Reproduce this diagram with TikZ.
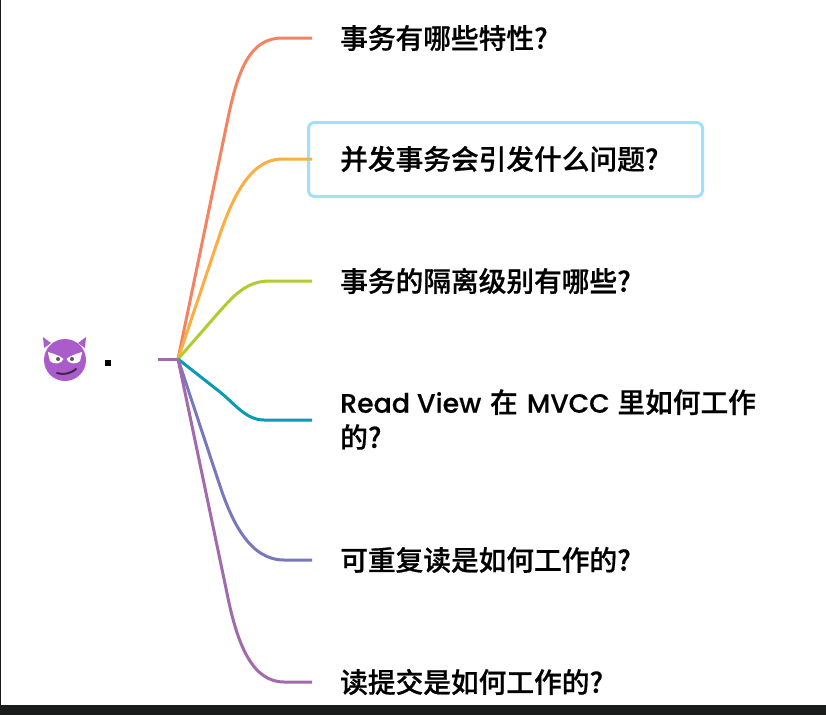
\documentclass[tikz,border=0pt]{standalone}
\usepackage{fontspec}
\setmainfont{Poppins Medium}
\newfontfamily\cjk[FakeBold=0.6]{Noto Sans CJK SC Medium}
\newfontfamily\lat[FakeBold=0.3]{Poppins Medium}
\tikzset{
  topic/.style={anchor=west,inner xsep=28pt,inner ysep=0pt,align=left,text=black,font=\fontsize{27.7}{35}\selectfont\cjk},
  branch/.style={line width=3pt,line join=round},
}
\definecolor{cA}{HTML}{F5835F}
\definecolor{cB}{HTML}{FDAE42}
\definecolor{cC}{HTML}{B2CC30}
\definecolor{cD}{HTML}{0A9BB3}
\definecolor{cE}{HTML}{7878BE}
\definecolor{cF}{HTML}{A269AC}
\definecolor{boxc}{HTML}{A0E0F9}
\definecolor{barc}{HTML}{1A1B1D}
\definecolor{devil}{HTML}{AB5CCB}
\begin{document}
\begin{tikzpicture}[x=1pt,y=-1pt]
\useasboundingbox (0,0) rectangle (826,715);
\fill[white] (0,0) rectangle (826,715);
\fill[barc] (0,705) rectangle (826,715);
\fill[barc] (0,0) rectangle (1.2,705);
% selected box
\node (sel) [draw=boxc,line width=3pt,rounded corners=6pt,fill=white,minimum width=394pt,minimum height=74pt,anchor=center,inner sep=0pt] at (505.5,159.5) {};
% topics
\node[topic] (t1) at (312,38) {事务有哪些特性?};
\node[topic] (t2) at (312,159) {并发事务会引发什么问题?};
\node[topic] (t3) at (312,281) {事务的隔离级别有哪些?};
\node[topic] (t4) at (312,420) {{\lat\fontsize{26.8}{35}\selectfont Read View}\hspace*{2.5pt} 在\hspace*{3pt} {\lat\fontsize{26.5}{35}\selectfont MVCC}\hspace*{1.5pt} 里如何工作\\的?\rule[-3pt]{0pt}{3pt}};
\node[topic] (t5) at (312,560) {可重复读是如何工作的?};
\node[topic] (t6) at (312,682) {读提交是如何工作的?};
% root
\coordinate (root) at (178,359);
\coordinate (stub) at (158,359);
% emoji
\begin{scope}[shift={(65,360)}]
\fill[devil] (-22,-23) -- (-21,-12) -- (-14,-17) -- cycle;
\fill[devil] (21,-23) -- (20,-12) -- (13,-17) -- cycle;
\fill[devil] (0,0) circle (21);
\fill[white] (-17,-8) .. controls (-10,-6) and (-3,-3) .. (-1.5,-1) .. controls (-3,4) and (-12,5) .. (-15,1) .. controls (-16,-2) and (-16.5,-5) .. (-17,-8) -- cycle;
\fill[white] (17,-8) .. controls (10,-6) and (3,-3) .. (1.5,-1) .. controls (3,4) and (12,5) .. (15,1) .. controls (16,-2) and (16.5,-5) .. (17,-8) -- cycle;
\fill[black!65] (-7,-1) circle (2);
\fill[black!65] (7,-1) circle (2);
\draw[line width=2pt,line cap=round,black!60!devil] (-8,13) .. controls (-2,15) and (5,14) .. (11,9);
\end{scope}
\node (dot) [fill=black,minimum size=6pt,inner sep=0pt] at (108,363) {};
% connectors
\draw[branch,cA] (root) -- (228,118) .. controls (238,70) and (250,38) .. (282,38) -- (t1.west);
\draw[branch,cB] (root) -- (218,240) .. controls (232,198) and (250,159) .. (282,159) -- (t2.west);
\draw[branch,cC] (root) -- (220,311) .. controls (236,293) and (248,281) .. (270,281) -- (t3.west);
\draw[branch,cD] (root) -- (220,392) .. controls (235,404) and (246,420) .. (264,420) -- (t4.west);
\draw[branch,cE] (root) -- (220,486) .. controls (232,522) and (250,560) .. (284,560) -- (t5.west);
\draw[branch,cF] (root) -- (228,598) .. controls (238,646) and (253,682) .. (284,682) -- (t6.west);
\draw[branch,cF] (stub) -- (root);
\end{tikzpicture}
\end{document}
